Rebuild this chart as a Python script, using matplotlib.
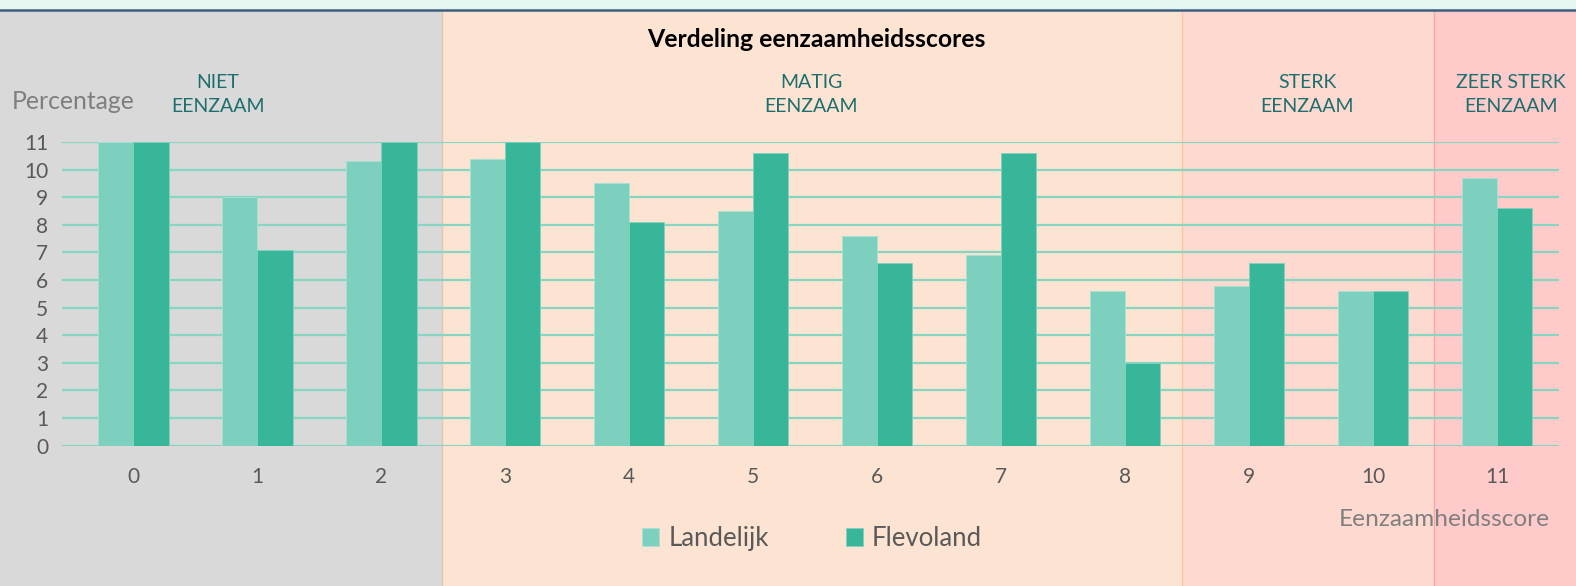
import matplotlib
matplotlib.use("Agg")
import matplotlib.pyplot as plt
from matplotlib.patches import Rectangle
from matplotlib.transforms import blended_transform_factory
import numpy as np

plt.rcParams['font.family'] = ['Lato', 'DejaVu Sans']

# data
scores = [0, 1, 2, 3, 4, 5, 6, 7, 8, 9, 10, 11]
landelijk = [11.0, 9.0, 10.3, 10.4, 9.5, 8.5, 7.6, 6.9, 5.6, 5.8, 5.6, 9.7]
flevoland = [11.0, 7.1, 11.0, 11.0, 8.1, 10.6, 6.6, 10.6, 3.0, 6.6, 5.6, 8.6]
series_names = ['Landelijk', 'Flevoland']

band_labels = ['NIET\nEENZAAM', 'MATIG\nEENZAAM', 'STERK\nEENZAAM', 'ZEER STERK\nEENZAAM']
band_edges = [-0.573, 2.49, 8.46, 10.49, 11.5]
band_label_x = [0.685, 5.47, 9.47, 11.11]

c_light = '#7dcfbe'
c_dark = '#38b69a'
grid_c = '#86d6c2'
band_colors = ['#d9d9d9', '#fde4d2', '#fed9d0', '#ffcbca']
band_lines = ['#e2c6ae', '#f9c6a8', '#f5a9a6']

W, H = 1576, 586
fig = plt.figure(figsize=(W / 100, H / 100), dpi=100)
fig.patch.set_facecolor('white')

ax = fig.add_axes([62 / W, 1 - 445.7 / H, (1559 - 62) / W, (445.7 - 142) / H])
ax.set_facecolor('none')
ax.set_xlim(band_edges[0], band_edges[-1])
ax.set_ylim(0, 11)

# background bands, x in data, y in figure
tr = blended_transform_factory(ax.transData, fig.transFigure)
top = 1 - 11 / H
for i, col in enumerate(band_colors):
    x0 = band_edges[i] if i > 0 else -5
    x1 = band_edges[i + 1] if i < len(band_colors) - 1 else 20
    fig.patches.append(Rectangle((x0, 0), x1 - x0, top, transform=tr,
                                 facecolor=col, edgecolor='none', zorder=-10))
for i, col in enumerate(band_lines):
    fig.lines.append(plt.Line2D([band_edges[i + 1]] * 2, [0, top], transform=tr,
                                color=col, lw=1, zorder=-9))

# top strip
fig.patches.append(Rectangle((0, 1 - 10 / H), 1, 10 / H, transform=fig.transFigure,
                             facecolor='#e5f6f1', edgecolor='none', zorder=-8))
fig.lines.append(plt.Line2D([0, 1], [1 - 10 / H] * 2, transform=fig.transFigure,
                            color='#3d5f7f', lw=1.8, zorder=-7))

x = np.arange(len(scores))
w = 0.286
ax.bar(x - w / 2, landelijk, w, color=c_light, edgecolor='#a6e2d4', linewidth=0.6,
       label=series_names[0], zorder=3)
ax.bar(x + w / 2, flevoland, w, color=c_dark, edgecolor='#7fd3bf', linewidth=0.6,
       label=series_names[1], zorder=3)

ax.set_axisbelow(True)
ax.yaxis.grid(True, color=grid_c, lw=1.6)
ax.set_yticks(range(0, 12))
ax.set_xticks(x)
ax.set_xticklabels([str(s) for s in scores])
for s in ax.spines.values():
    s.set_visible(False)
ax.tick_params(axis='y', length=0, pad=10, labelsize=15, labelcolor='#595959')
ax.tick_params(axis='x', length=0, pad=15, labelsize=15, labelcolor='#595959')

fig.text(816 / W, 1 - 47 / H, 'Verdeling eenzaamheidsscores', ha='center', va='baseline',
         fontsize=17.8, fontweight='bold', color='black')
fig.text(12 / W, 1 - 109 / H, 'Percentage', ha='left', va='baseline',
         fontsize=17.8, color='#7f7f7f')
fig.text(1550 / W, 1 - 526 / H, 'Eenzaamheidsscore', ha='right', va='baseline',
         fontsize=17.6, color='#7f7f7f')

for lab, bx in zip(band_labels, band_label_x):
    ax.text(bx, 1 - 95 / H, lab, transform=tr, ha='center', va='center',
            fontsize=14, color='#1d6e6e', linespacing=1.5)

fig.legend(loc='center', bbox_to_anchor=(812 / W, 1 - 538.5 / H), ncol=2, frameon=False,
           fontsize=18.5, labelcolor='#595959', handlelength=0.66, handleheight=0.66,
           handletextpad=0.35, columnspacing=3.0)

fig.savefig('out.png', dpi=100)
